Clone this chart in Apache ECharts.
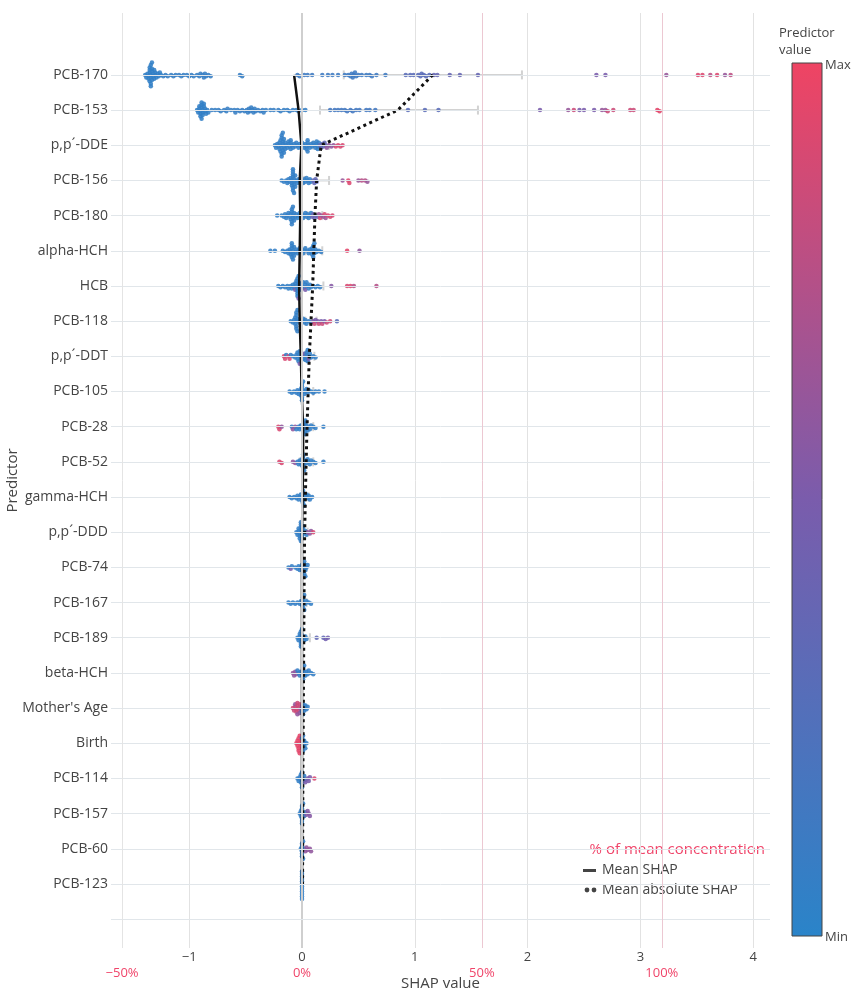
<!DOCTYPE html>
<html><head><meta charset="utf-8">
<script src="https://cdn.jsdelivr.net/npm/echarts@6/dist/echarts.min.js"></script>
<style>html,body{margin:0;padding:0;background:#fff}#c{width:851px;height:990px}</style>
</head><body><div id="c"></div><script>
// ---------------- data ----------------
const predictors = ['PCB-170','PCB-153','p,p\u00b4-DDE','PCB-156','PCB-180','alpha-HCH','HCB','PCB-118','p,p\u00b4-DDT','PCB-105','PCB-28','PCB-52','gamma-HCH','p,p\u00b4-DDD','PCB-74','PCB-167','PCB-189','beta-HCH',"Mother's Age",'Birth','PCB-114','PCB-157','PCB-60','PCB-123'];
const xTicks = [-1,0,1,2,3,4];
const pctTicks = [-50,0,50,100];
const shapAt100pct = 3.19;
const meanShap    = [-0.07,-0.03,-0.005,-0.02,-0.015,-0.02,-0.025,-0.02,-0.01,-0.003,0.01,0.01,0.005,0,0,0,0,0,0,0,0,0,0,0];
const meanAbsShap = [1.16,0.85,0.17,0.13,0.115,0.105,0.095,0.08,0.065,0.055,0.045,0.037,0.03,0.024,0.02,0.018,0.016,0.014,0.012,0.01,0.008,0.007,0.006,0.005];
const ciLow  = [0.37,0.16,0.10,0.02,0.05,0.03,0.00,0.03,0.02,0.01,0.00,-0.02,0.00,0.00,0.00,0.00,-0.02,0,0,0,0,0,0,0];
const ciHigh = [1.95,1.56,0.24,0.24,0.18,0.18,0.19,0.13,0.11,0.10,0.10,0.10,0.06,0.05,0.04,0.04,0.07,0.03,0.03,0.02,0.02,0.02,0.01,0.01];

// each row: [predictor value (0=min..1=max), [SHAP values]]
const row_PCB170 = [
 [0.05,[-1.39,-1.38,-1.37,-1.36,-1.36,-1.35,-1.35,-1.35,-1.35,-1.34,-1.34,-1.34,-1.34,-1.34,-1.33,-1.33,-1.33,-1.33,-1.32,-1.32,-1.31,-1.31,-1.30,-1.30,-1.29,-1.28,-1.27,-1.26,-1.25]],
 [0.08,[-1.23,-1.21,-1.19,-1.16,-1.14,-1.12,-1.09,-1.07,-1.05,-1.02,-1.00,-0.98,-0.96,-0.93,-0.91,-0.90,-0.88,-0.87,-0.86,-0.85,-0.83,-0.81,-0.55,-0.53]],
 [0.12,[-0.04,-0.02,0.02,0.05,0.09,0.18,0.23,0.27,0.32,0.38,0.41,0.43,0.44,0.45,0.46,0.47,0.48,0.50,0.53,0.57,0.60,0.62,0.66,0.74]],
 [0.30,[0.92,0.96,0.99,1.03,1.05,1.06,1.08,1.10,1.13]],
 [0.38,[1.17,1.20,1.31,1.40,1.56]],
 [0.50,[2.61,2.69]],
 [0.62,[3.23,3.75]],
 [0.78,[3.62,3.80]],
 [0.92,[3.51,3.55,3.68]]
];
const row_PCB153 = [
 [0.05,[-0.93,-0.92,-0.91,-0.91,-0.90,-0.90,-0.90,-0.89,-0.89,-0.89,-0.89,-0.88,-0.88,-0.88,-0.87,-0.87,-0.86,-0.86,-0.85,-0.84,-0.83]],
 [0.08,[-0.80,-0.77,-0.74,-0.72,-0.69,-0.67,-0.66,-0.63,-0.60,-0.59,-0.57,-0.55,-0.53,-0.51,-0.49,-0.48,-0.47,-0.46,-0.45,-0.44,-0.43,-0.42,-0.41,-0.39,-0.37,-0.35,-0.34,-0.32,-0.28,-0.25,-0.21,-0.19,-0.16,-0.13,-0.11,-0.08,-0.05,-0.03,0.00,0.03]],
 [0.15,[0.25,0.29,0.32,0.35,0.38,0.40,0.43,0.45,0.48,0.51,0.57,0.60,0.65]],
 [0.30,[0.94,1.09,1.21]],
 [0.50,[2.11,2.46,2.50,2.59]],
 [0.62,[2.36,2.66,2.69]],
 [0.85,[2.41,2.71,2.76,2.91,2.94]],
 [0.95,[3.15,3.17]]
];
const row_DDE = [
 [0.06,[-0.24,-0.23,-0.22,-0.21,-0.20,-0.20,-0.19,-0.19,-0.19,-0.18,-0.18,-0.18,-0.18,-0.18,-0.17,-0.17,-0.17,-0.17,-0.16,-0.16,-0.16,-0.15,-0.15,-0.14,-0.13,-0.12,-0.12,-0.11,-0.10,-0.10,-0.10,-0.09,-0.08,-0.07,-0.06,-0.05,-0.04,-0.03,-0.02,-0.01,0.00,0.01,0.02,0.03,0.04,0.04,0.05,0.05,0.05,0.06,0.07,0.08,0.09,0.10,0.11,0.12,0.13,0.13,0.14,0.14,0.15]],
 [0.35,[0.16,0.17,0.18,0.19,0.20,0.21]],
 [0.60,[0.22,0.24,0.26,0.28]],
 [0.90,[0.30,0.32,0.34,0.36]]
];
const row_PCB156 = [
 [0.06,[-0.18,-0.16,-0.14,-0.13,-0.12,-0.11,-0.10,-0.09,-0.09,-0.09,-0.08,-0.08,-0.08,-0.08,-0.08,-0.08,-0.07,-0.07,-0.07,-0.07,-0.06,-0.06,-0.05,-0.04,-0.03,-0.02,-0.01,0.00,0.01,0.02,0.03,0.04,0.05,0.06,0.07,0.08]],
 [0.35,[0.10,0.11,0.12,0.13]],
 [0.62,[0.36,0.50,0.58]],
 [0.75,[0.53,0.56]],
 [0.92,[0.41,0.42]]
];
const row_PCB180 = [
 [0.06,[-0.22,-0.18,-0.16,-0.15,-0.14,-0.13,-0.12,-0.11,-0.10,-0.10,-0.09,-0.09,-0.09,-0.09,-0.08,-0.08,-0.08,-0.07,-0.07,-0.06,-0.05,-0.04,-0.03,-0.02,-0.01,0.00,0.01,0.02,0.03,0.04,0.05,0.06,0.07,0.08]],
 [0.40,[0.09,0.10,0.11,0.12,0.14]],
 [0.65,[0.15,0.17,0.19,0.21]],
 [0.90,[0.16,0.20,0.23,0.25,0.27]]
];
const row_alphaHCH = [
 [0.06,[-0.28,-0.24,-0.17,-0.15,-0.13,-0.12,-0.11,-0.10,-0.10,-0.09,-0.09,-0.09,-0.09,-0.08,-0.08,-0.08,-0.07,-0.07,-0.06,-0.05,-0.04,-0.03,-0.02,-0.01,0.00,0.01,0.02,0.03,0.05,0.06,0.07,0.08,0.09,0.09,0.10,0.10,0.10,0.11,0.11,0.12,0.13,0.15,0.17]],
 [0.95,[0.40]],
 [0.60,[0.51]]
];
const row_HCB = [
 [0.06,[-0.21,-0.19,-0.17,-0.15,-0.13,-0.12,-0.10,-0.09,-0.08,-0.07,-0.06,-0.05,-0.05,-0.04,-0.04,-0.04,-0.04,-0.04,-0.03,-0.03,-0.03,-0.02,-0.02,-0.01,0.00,0.01,0.02,0.03,0.04,0.05,0.06,0.07,0.08,0.10,0.12,0.14,0.16]],
 [0.50,[-0.06,-0.03,0.00,0.03]],
 [0.55,[0.26]],
 [0.90,[0.40,0.43]],
 [0.75,[0.46,0.66]]
];
const row_PCB118 = [
 [0.06,[-0.10,-0.08,-0.07,-0.06,-0.06,-0.05,-0.05,-0.05,-0.05,-0.05,-0.04,-0.04,-0.04,-0.03,-0.02,-0.01,0.00,0.01,0.02,0.03,0.04,0.06,0.08]],
 [0.50,[0.10,0.12,0.14,0.17,0.20]],
 [0.85,[0.11,0.15,0.18,0.22,0.25]],
 [0.30,[0.31]]
];
const row_DDT = [
 [0.90,[-0.16,-0.15,-0.12,-0.11]],
 [0.06,[-0.14,-0.10,-0.08,-0.06,-0.05,-0.04,-0.04,-0.03,-0.03,-0.02,-0.02,-0.01,-0.01,0.00,0.01,0.02,0.03,0.04,0.04,0.04,0.05,0.05,0.06,0.07,0.08,0.10,0.12]],
 [0.50,[-0.02,0.02,0.06]]
];
const row_PCB105 = [
 [0.06,[-0.11,-0.09,-0.07,-0.05,-0.04,-0.03,-0.02,-0.01,-0.01,0.00,0.00,0.00,0.00,0.00,0.01,0.01,0.02,0.03,0.04,0.05,0.06,0.08,0.10,0.12,0.15,0.20]]
];
const row_PCB28 = [
 [0.90,[-0.21,-0.20]],
 [0.60,[-0.18,-0.08,-0.06]],
 [0.06,[-0.09,-0.05,-0.03,-0.02,-0.01,0.00,0.01,0.02,0.02,0.03,0.03,0.03,0.03,0.04,0.04,0.05,0.06,0.07,0.08,0.10,0.12,0.19]]
];
const row_PCB52 = [
 [0.90,[-0.20,-0.18]],
 [0.60,[-0.08,-0.06]],
 [0.06,[-0.04,-0.03,-0.02,-0.01,0.00,0.00,0.01,0.01,0.01,0.01,0.02,0.02,0.03,0.04,0.05,0.06,0.07,0.08,0.10,0.12,0.19]]
];
const row_gammaHCH = [
 [0.06,[-0.11,-0.09,-0.07,-0.05,-0.04,-0.03,-0.02,-0.01,0.00,0.00,0.01,0.01,0.01,0.01,0.02,0.02,0.03,0.04,0.05,0.06,0.07,0.09]]
];
const row_DDD = [
 [0.06,[-0.05,-0.04,-0.03,-0.03,-0.02,-0.02,-0.02,-0.01,-0.01,-0.01,-0.01,-0.01,0.00,0.00,0.00,0.01,0.01,0.02,0.03,0.04]],
 [0.60,[0.05,0.07,0.08]],
 [0.90,[0.10]]
];
const row_PCB74 = [
 [0.06,[-0.12,-0.09,-0.06,-0.04,-0.03,-0.02,-0.01,0.00,0.01,0.01,0.02,0.02,0.02,0.02,0.03,0.03,0.04,0.05]],
 [0.50,[-0.10]]
];
const row_PCB167 = [
 [0.06,[-0.12,-0.10,-0.08,-0.06,-0.04,-0.02,-0.01,0.00,0.01,0.01,0.01,0.01,0.02,0.02,0.03,0.04,0.06,0.08]]
];
const row_PCB189 = [
 [0.06,[-0.04,-0.03,-0.02,-0.02,-0.01,-0.01,-0.01,-0.01,-0.01,0.00,0.00,0.01,0.02,0.03,0.04]],
 [0.35,[0.13,0.19]],
 [0.45,[0.21,0.23]]
];
const row_betaHCH = [
 [0.60,[-0.08,-0.07,-0.06,-0.05]],
 [0.06,[-0.04,-0.03,-0.02,-0.01,0.00,0.01,0.01,0.01,0.01,0.02,0.02,0.03,0.04,0.05,0.06,0.08,0.10]]
];
const row_MotherAge = [
 [0.85,[-0.08,-0.07,-0.06,-0.05,-0.05,-0.04,-0.04,-0.03,-0.03,-0.02]],
 [0.60,[-0.06,-0.04,-0.02,-0.01,0.00]],
 [0.06,[0.00,0.01,0.01,0.02,0.02,0.03,0.04,0.05]]
];
const row_Birth = [
 [0.95,[-0.05,-0.04,-0.04,-0.03,-0.03,-0.03,-0.02,-0.02,-0.02,-0.01,-0.01,0.00]],
 [0.06,[0.00,0.01,0.01,0.01,0.02,0.02,0.03,0.04]]
];
const row_PCB114 = [
 [0.06,[-0.04,-0.03,-0.02,-0.01,-0.01,-0.01,0.00,0.00,0.00,0.01,0.01,0.02,0.03]],
 [0.50,[0.03,0.05,0.06,0.07]],
 [0.90,[0.11]]
];
const row_PCB157 = [
 [0.06,[-0.02,-0.01,-0.01,0.00,0.00,0.00,0.00,0.00,0.01,0.01,0.02,0.03]],
 [0.55,[0.04,0.05,0.06,0.07]]
];
const row_PCB60 = [
 [0.06,[-0.01,0.00,0.00,0.00,0.00,0.00,0.01,0.01,0.02]],
 [0.60,[0.03,0.04,0.05,0.07,0.08]]
];
const row_PCB123 = [
 [0.06,[0.00,0.00,0.00,0.00,0.00,0.00,0.00,0.00,0.00,0.00,0.00,0.00]]
];
const rowPoints = [row_PCB170,row_PCB153,row_DDE,row_PCB156,row_PCB180,row_alphaHCH,row_HCB,row_PCB118,row_DDT,row_PCB105,row_PCB28,row_PCB52,row_gammaHCH,row_DDD,row_PCB74,row_PCB167,row_PCB189,row_betaHCH,row_MotherAge,row_Birth,row_PCB114,row_PCB157,row_PCB60,row_PCB123];

// ---------------- layout / style ----------------
const FONT = "'Open Sans', sans-serif";
const TXT = '#444';
const PINK = '#f0456a';
const xMin = -1.693, xMax = 4.149, yMin = -1.76, yMax = 24.82;
const fmt = v => (v < 0 ? '\u2212' + Math.abs(v) : String(v));
const colors = ['#2a84c9', '#7a5cac', '#ef4463'];

const gridV = xTicks.filter(v => v !== 0).map(v => ({xAxis: v, lineStyle: {color: '#e2e2e2', width: 1, type: 'solid'}}));
gridV.push({xAxis: 0, lineStyle: {color: '#cfcfcf', width: 2, type: 'solid'}});
const gridH = predictors.map((_, i) => ({yAxis: i, lineStyle: {color: '#e1e6ea', width: 1, type: 'solid'}}));
gridH.push({yAxis: predictors.length, lineStyle: {color: '#e1e6ea', width: 1, type: 'solid'}});
const pctLines = pctTicks.filter(v => v !== 0).map(v => ({xAxis: v, lineStyle: {color: v < 0 ? '#e4e4e4' : '#ecc8d2', width: 1, type: 'solid'}}));

const chart = echarts.init(document.getElementById('c'), null, {renderer: 'canvas'});
const baseOption = {
  animation: false,
  backgroundColor: '#fff',
  textStyle: {fontFamily: FONT},
  grid: {left: 111, right: 81, top: 13, bottom: 42, containLabel: false, outerBoundsMode: 'none'},
  xAxis: [
    {type: 'value', min: xMin, max: xMax, position: 'bottom',
     axisLine: {show: false}, axisTick: {show: false}, splitLine: {show: false},
     axisLabel: {customValues: xTicks, formatter: fmt, color: TXT, fontSize: 13, margin: 3, fontFamily: FONT}},
    {type: 'value', min: xMin / shapAt100pct * 100, max: xMax / shapAt100pct * 100, position: 'bottom', offset: 16,
     axisLine: {show: false}, axisTick: {show: false}, splitLine: {show: false},
     axisLabel: {customValues: pctTicks, formatter: v => fmt(v) + '%', color: PINK, fontSize: 13, margin: 3, fontFamily: FONT},
     name: 'SHAP value', nameLocation: 'middle', nameGap: 12, nameMoveOverlap: false,
     nameTextStyle: {fontSize: 15, color: TXT, fontFamily: FONT}}
  ],
  yAxis: {type: 'value', inverse: true, min: yMin, max: yMax,
    axisLine: {show: false}, axisTick: {show: false}, splitLine: {show: false},
    axisLabel: {customValues: predictors.map((_, i) => i), formatter: v => predictors[Math.round(v)] || '',
      color: TXT, fontSize: 14, margin: 3, fontFamily: FONT},
    name: 'Predictor', nameLocation: 'middle', nameGap: 91, nameRotate: 90, nameMoveOverlap: false,
    nameTextStyle: {fontSize: 15, color: TXT, fontFamily: FONT}},
  visualMap: {type: 'continuous', show: false, min: 0, max: 1, dimension: 2, seriesIndex: 3,
    inRange: {color: colors}},
  series: [
    {type: 'line', xAxisIndex: 0, data: [], silent: true, z: 0,
     markLine: {silent: true, symbol: ['none', 'none'], label: {show: false}, animation: false, data: gridV.concat(gridH)}},
    {type: 'line', xAxisIndex: 1, data: [], silent: true, z: 0,
     markLine: {silent: true, symbol: ['none', 'none'], label: {show: false}, animation: false, data: pctLines}},
    {type: 'custom', xAxisIndex: 0, z: 1, silent: true,
     encode: {x: [1, 2], y: 0},
     data: predictors.map((_, i) => [i, ciLow[i], ciHigh[i]]),
     renderItem: (params, api) => {
       const y = api.value(0);
       const a = api.coord([api.value(1), y]);
       const b = api.coord([api.value(2), y]);
       const h = 4.5, st = {stroke: '#d2d2d2', lineWidth: 2};
       return {type: 'group', children: [
         {type: 'line', shape: {x1: a[0], y1: a[1], x2: b[0], y2: b[1]}, style: st},
         {type: 'line', shape: {x1: a[0], y1: a[1] - h, x2: a[0], y2: a[1] + h}, style: st},
         {type: 'line', shape: {x1: b[0], y1: b[1] - h, x2: b[0], y2: b[1] + h}, style: st}
       ]};
     }},
    {id: 'pts', type: 'scatter', xAxisIndex: 0, z: 2, symbolSize: 4.5, itemStyle: {opacity: 0.88}, data: []},
    {type: 'line', xAxisIndex: 0, z: 3, symbol: 'none', silent: true,
     lineStyle: {color: '#111', width: 2.5},
     data: meanShap.map((v, i) => [v, i])},
    {type: 'line', xAxisIndex: 0, z: 3, symbol: 'none', silent: true,
     lineStyle: {color: '#111', width: 3, type: [3, 3.5]},
     data: meanAbsShap.map((v, i) => [v, i])}
  ],
  graphic: [
    {type: 'text', left: 779, top: 25, style: {text: 'Predictor\nvalue', fill: TXT, font: '13px ' + FONT, lineHeight: 17}},
    {type: 'rect', shape: {x: 792, y: 63, width: 30, height: 873}, z: 10,
     style: {stroke: '#444', lineWidth: 1,
       fill: new echarts.graphic.LinearGradient(0, 0, 0, 1, [
         {offset: 0, color: colors[2]}, {offset: 0.5, color: colors[1]}, {offset: 1, color: colors[0]}])}},
    {type: 'text', x: 825, y: 65, style: {text: 'Max', fill: TXT, font: '13px ' + FONT, verticalAlign: 'middle'}},
    {type: 'text', x: 825, y: 937, style: {text: 'Min', fill: TXT, font: '13px ' + FONT, verticalAlign: 'middle'}},
    {type: 'text', x: 765, y: 850, style: {text: '% of mean concentration', fill: PINK, font: '15px ' + FONT, align: 'right', verticalAlign: 'middle'}},
    {type: 'rect', shape: {x: 583, y: 869, width: 13, height: 3}, style: {fill: TXT}},
    {type: 'text', x: 602, y: 870, style: {text: 'Mean SHAP', fill: TXT, font: '14px ' + FONT, verticalAlign: 'middle'}},
    {type: 'circle', shape: {cx: 587, cy: 890, r: 2.4}, style: {fill: TXT}},
    {type: 'circle', shape: {cx: 594, cy: 890, r: 2.4}, style: {fill: TXT}},
    {type: 'text', x: 602, y: 890, style: {text: 'Mean absolute SHAP', fill: TXT, font: '14px ' + FONT, verticalAlign: 'middle'}}
  ]
};
chart.setOption(baseOption);

// beeswarm layout of the points using the chart's own scales
const kx = chart.convertToPixel({xAxisIndex: 0}, 1) - chart.convertToPixel({xAxisIndex: 0}, 0);
const ky = chart.convertToPixel({yAxisIndex: 0}, 1) - chart.convertToPixel({yAxisIndex: 0}, 0);
const D = 2.5, STEP = 1.25;
const pts = [];
rowPoints.forEach((groups, row) => {
  const items = [];
  groups.forEach(([val, list]) => list.forEach(x => items.push({x, val})));
  items.sort((a, b) => a.x - b.x);
  const placed = [];
  items.forEach(it => {
    const xp = it.x * kx;
    let off = 0;
    for (let k = 0; k < 80; k++) {
      const cand = k === 0 ? 0 : (k % 2 === 1 ? 1 : -1) * Math.ceil(k / 2) * STEP;
      let ok = true;
      for (let j = placed.length - 1; j >= 0; j--) {
        const dx = xp - placed[j][0];
        if (dx >= D) break;
        const dy = cand - placed[j][1];
        if (dx * dx + dy * dy < D * D) { ok = false; break; }
      }
      if (ok) { off = cand; break; }
    }
    placed.push([xp, off]);
    pts.push([it.x, row + off / Math.abs(ky), it.val]);
  });
});
chart.setOption({series: [{id: 'pts', data: pts}]});
</script></body></html>
